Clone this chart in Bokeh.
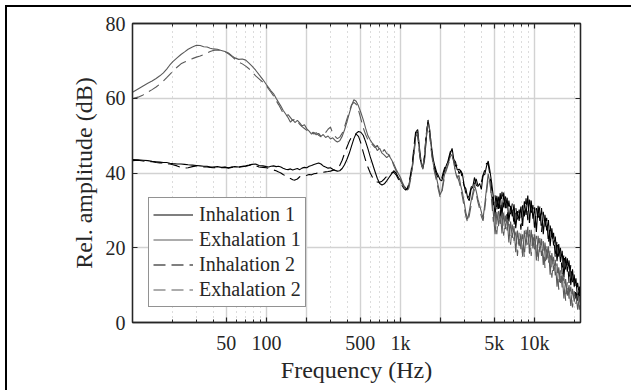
from bokeh.plotting import figure
from bokeh.models import (LogAxis, LinearAxis, FixedTicker, Legend, LegendItem, Range1d)
from bokeh.embed import file_html
from bokeh.resources import INLINE

# ---------------- data ----------------
freq_low = [10, 11, 12, 13, 14, 15, 16, 17, 18, 19, 20, 21.5, 23, 24.5, 26, 28,
            30, 32, 34, 36, 38, 40, 43, 46, 49, 52, 55, 58, 62, 66, 70, 74, 78,
            83, 88, 94, 100]
freq_mid = [104, 108, 113, 118, 123, 128, 133, 139, 145, 151,
            157, 163, 170, 177, 184, 192, 200, 208, 217, 226,
            235, 245, 255, 265, 276, 288, 300, 312, 325, 338,
            352, 367, 382, 398, 414, 431, 449, 467, 486, 506,
            527, 549, 571, 595, 619, 645, 671, 699, 728, 758,
            789, 821, 855, 890, 927, 965]
freq_high = [1000, 1030, 1061, 1093, 1126, 1159, 1194, 1230, 1267, 1305,
             1344, 1384, 1426, 1469, 1513, 1558, 1605, 1653, 1702, 1754,
             1806, 1860, 1916, 1974, 2033, 2094, 2157, 2221, 2288, 2357,
             2427, 2500, 2575, 2652, 2732, 2814, 2898, 2985, 3075, 3167,
             3262, 3360, 3461, 3565, 3671, 3782, 3895, 4012, 4132, 4256,
             4384, 4515, 4651, 4790, 4934, 5082, 5235, 5392, 5553, 5720,
             5892, 6068, 6250, 6438, 6631, 6830, 7035, 7246, 7463, 7687,
             7918, 8155, 8400, 8652, 8911, 9179, 9454, 9738, 10030, 10331,
             10641, 10960, 11289, 11627, 11976, 12335, 12706, 13087, 13479, 13884,
             14300, 14729, 15171, 15626, 16095, 16578, 17075, 17588, 18115, 18659,
             19218, 19795, 20389, 21000, 21630, 22050]

in1_low = [43.6, 43.5, 43.4, 43.3, 43.1, 43.0, 42.9, 42.8, 42.8, 42.6, 42.5,
           42.4, 42.4, 42.3, 42.2, 42.1, 42.0, 41.9, 41.8, 41.8, 41.6,
           41.6, 41.7, 41.5, 41.6, 41.4, 41.6, 41.7, 41.6, 41.8, 41.9,
           42.1, 42.3, 42.4, 42.0, 41.9, 41.7]
ex1_low = [61.6, 62.5, 63.3, 64.0, 64.6, 65.3, 66.0, 66.8, 67.8, 68.9, 69.8,
           70.8, 71.7, 72.4, 73.1, 73.7, 74.2, 74.1, 73.8, 73.7, 73.4,
           73.2, 73.1, 72.8, 72.5, 72.1, 71.4, 70.8, 70.4, 70.5, 70.2,
           69.4, 68.6, 67.5, 66.3, 65.0, 63.6]
in2_low = [43.3, 43.4, 43.2, 43.1, 43.0, 42.8, 42.7, 42.7, 42.5, 42.4, 42.2,
           41.9, 41.5, 41.3, 41.4, 41.7, 41.9, 41.7, 41.6, 41.6, 41.5,
           41.4, 41.5, 41.4, 41.5, 41.3, 41.5, 41.6, 41.5, 41.7, 41.8,
           42.0, 42.2, 42.0, 41.6, 41.5, 41.4]
ex2_low = [59.9, 60.3, 60.9, 61.6, 62.3, 63.0, 63.8, 64.6, 65.5, 66.4, 67.2,
           68.3, 69.2, 69.7, 70.1, 70.6, 71.0, 71.3, 71.7, 72.1, 72.5,
           72.8, 72.9, 72.7, 72.4, 71.9, 71.2, 70.5, 69.7, 69.2, 68.6,
           67.9, 67.0, 66.0, 65.2, 64.3, 63.3]

in1_mid = [41.6, 41.8, 41.9, 41.7, 41.8, 41.6, 41.3, 41.0, 40.9, 41.1,
           40.8, 41.0, 41.2, 40.9, 41.3, 41.5, 41.4, 41.8, 42.0, 42.3,
           42.5, 42.7, 42.4, 41.9, 41.6, 41.3, 41.4, 41.0, 40.7, 40.5,
           40.6, 41.2, 42.2, 43.6, 45.2, 47.2, 49.2, 50.6, 51.1, 50.9,
           50.1, 48.4, 46.5, 44.3, 42.4, 40.4, 38.6, 37.2, 36.8, 37.1,
           37.9, 38.8, 39.7, 40.6, 40.0, 38.8]
ex1_mid = [62.8, 62.0, 61.2, 60.0, 58.9, 57.9, 56.8, 55.8, 54.8, 53.6,
           54.3, 53.5, 54.1, 53.4, 52.6, 52.9, 51.8, 51.2, 50.4, 50.9,
           50.2, 50.6, 49.8, 50.3, 49.5, 49.9, 49.1, 49.4, 48.7, 48.3,
           48.6, 49.8, 51.5, 53.6, 55.8, 58.0, 59.6, 59.2, 57.9, 56.2,
           54.3, 52.0, 50.0, 48.8, 47.9, 47.2, 46.0, 46.6, 45.3, 44.8,
           44.1, 44.7, 43.6, 42.5, 41.0, 39.8]
in2_mid = [41.2, 41.0, 40.8, 40.6, 40.3, 40.0, 39.6, 39.2, 38.9, 38.5,
           38.2, 38.1, 38.4, 39.0, 39.3, 39.2, 39.4, 39.6, 39.5, 39.8,
           39.9, 40.1, 40.0, 40.2, 40.3, 40.4, 40.5, 40.7, 40.8, 41.2,
           42.0, 43.4, 45.2, 46.9, 48.4, 49.6, 50.3, 50.4, 49.8, 48.0,
           45.6, 43.4, 41.6, 40.0, 38.8, 38.0, 37.6, 37.5, 37.8, 38.4,
           39.1, 39.6, 40.0, 40.2, 39.5, 38.3]
ex2_mid = [62.4, 61.6, 60.6, 59.4, 58.3, 57.2, 56.0, 55.2, 55.6, 54.8,
           54.0, 54.5, 53.8, 53.0, 52.4, 51.9, 51.4, 51.7, 51.0, 50.4,
           50.8, 50.1, 49.7, 50.2, 50.8, 51.7, 52.3, 50.6, 49.8, 49.2,
           49.6, 50.6, 52.3, 54.4, 56.3, 58.2, 58.9, 58.4, 56.8, 54.5,
           52.1, 50.3, 48.9, 48.3, 47.5, 46.8, 47.4, 46.1, 45.5, 46.3,
           45.2, 44.9, 43.8, 42.0, 40.6, 39.4]

in1_high = [38.0, 37.2, 36.5, 36.0, 35.7, 37.0, 39.2, 42.0, 46.5, 51.0,
            51.6, 46.8, 42.9, 41.2, 43.6, 49.2, 54.2, 51.3, 47.2, 43.7,
            41.8, 40.2, 39.3, 38.2, 37.9, 39.6, 41.2, 42.5, 43.3, 45.2,
            46.6, 43.6, 43.0, 40.8, 41.0, 40.6, 39.8, 36.6, 35.8, 33.4,
            32.6, 35.6, 36.2, 38.8, 36.8, 36.4, 37.2, 35.6, 39.4, 39.6,
            41.8, 43.2, 40.6, 37.4, 33.5, 28.6, 33.9, 30.4, 34.6, 28.4,
            34.8, 30.6, 33.4, 27.0, 31.2, 28.4, 31.6, 25.2, 29.8, 27.2,
            31.0, 25.8, 32.4, 28.8, 34.0, 26.6, 32.6, 27.8, 30.8, 24.2,
            31.2, 27.2, 30.6, 23.6, 28.8, 24.6, 27.4, 20.4, 25.2, 20.6,
            23.0, 16.4, 21.0, 16.2, 19.2, 12.2, 17.6, 13.6, 16.6, 10.0,
            14.2, 9.6, 11.8, 5.8, 9.6, 5.6]
ex1_high = [38.8, 37.6, 36.6, 35.8, 35.4, 36.8, 39.4, 42.6, 46.8, 50.8,
            51.2, 46.2, 42.4, 41.0, 44.2, 49.8, 53.8, 51.6, 46.4, 42.6,
            40.4, 38.6, 36.4, 34.2, 35.2, 38.2, 40.4, 41.6, 43.0, 44.4,
            45.0, 42.8, 40.2, 38.6, 39.4, 36.6, 34.8, 32.2, 29.4, 27.6,
            29.8, 32.4, 34.6, 36.8, 35.2, 33.0, 31.4, 29.6, 27.8, 31.6,
            35.8, 39.8, 37.2, 33.6, 29.2, 23.6, 29.6, 25.8, 30.0, 23.8,
            29.4, 25.0, 28.2, 21.4, 27.0, 22.6, 25.8, 18.8, 24.6, 20.4,
            23.8, 17.6, 24.6, 20.6, 25.6, 18.4, 24.8, 19.8, 23.6, 16.6,
            23.2, 18.8, 22.4, 15.4, 21.4, 16.8, 20.4, 12.8, 18.6, 13.8,
            16.8, 9.6, 14.8, 10.6, 13.0, 6.4, 11.6, 7.2, 10.0, 4.4,
            9.0, 5.6, 8.0, 3.4, 7.0, 4.2]
in2_high = [37.6, 36.6, 35.9, 35.4, 35.8, 37.6, 40.0, 43.2, 47.8, 51.8,
            50.4, 45.6, 42.2, 41.6, 44.8, 50.6, 53.6, 50.2, 46.0, 42.8,
            41.0, 39.6, 38.7, 38.0, 38.6, 40.4, 41.8, 42.0, 44.0, 45.8,
            45.6, 43.4, 41.8, 42.2, 39.8, 40.6, 38.4, 36.6, 34.6, 33.2,
            34.0, 36.0, 37.4, 37.0, 38.4, 36.6, 36.8, 37.6, 39.4, 40.8,
            42.6, 42.4, 39.4, 35.8, 31.4, 34.0, 29.8, 34.4, 28.6, 35.0,
            30.8, 34.0, 27.6, 32.6, 29.0, 31.8, 25.8, 30.8, 27.6, 30.2,
            24.8, 31.4, 28.4, 33.2, 27.4, 33.6, 28.6, 31.4, 24.6, 30.6,
            27.2, 31.0, 24.2, 29.6, 25.6, 28.0, 21.2, 26.2, 21.8, 24.0,
            17.2, 22.0, 17.6, 20.0, 13.0, 18.4, 14.2, 17.2, 10.6, 15.4,
            10.8, 12.8, 6.4, 10.6, 7.0, 8.6]
ex2_high = [38.2, 37.0, 36.2, 35.2, 35.0, 36.2, 38.6, 41.8, 45.8, 49.8,
            50.6, 45.6, 42.0, 41.4, 45.0, 50.6, 53.0, 50.4, 45.6, 42.0,
            39.8, 37.8, 35.6, 33.6, 34.6, 37.4, 39.8, 41.2, 42.6, 43.6,
            44.2, 43.4, 39.6, 39.2, 37.8, 35.8, 33.6, 31.0, 28.4, 26.8,
            28.6, 31.2, 33.8, 35.6, 34.4, 32.2, 30.4, 28.4, 27.2, 30.4,
            34.6, 38.6, 38.2, 32.4, 27.0, 30.0, 23.6, 29.8, 26.4, 29.6,
            23.2, 28.6, 24.6, 27.4, 20.8, 26.2, 21.8, 25.0, 17.8, 24.0,
            19.6, 23.6, 17.4, 24.8, 20.8, 25.0, 17.8, 24.0, 19.4, 23.2,
            16.2, 22.6, 17.8, 21.8, 14.6, 20.8, 15.8, 19.4, 12.0, 17.6,
            12.6, 15.8, 8.8, 14.0, 9.4, 12.4, 5.8, 10.8, 6.4, 9.6,
            4.0, 8.4, 5.0, 7.4, 3.4, 6.2]

series_labels = ["Inhalation 1", "Exhalation 1", "Inhalation 2", "Exhalation 2"]
x_major = [50, 100, 200, 500, 1000, 2000, 5000, 10000]
x_minor = [20, 30, 40, 60, 70, 80, 90, 300, 400, 600, 700, 800, 900,
           3000, 4000, 6000, 7000, 8000, 9000, 20000]
x_labels = {50: "50", 100: "100", 200: "", 500: "500", 1000: "1k",
            2000: "", 5000: "5k", 10000: "10k"}
y_major = [0, 20, 40, 60, 80]

freq = freq_low + freq_mid + freq_high
in1 = in1_low + in1_mid + in1_high
ex1 = ex1_low + ex1_mid + ex1_high
in2 = in2_low + in2_mid + in2_high
ex2 = ex2_low + ex2_mid + ex2_high

# ---------------- figure ----------------
FONT = "Liberation Serif"
INK = "#262626"
GRAY = "#5a5a5a"

p = figure(width=626, height=385, x_axis_type="log",
           x_range=Range1d(10, 22050), y_range=Range1d(0, 80),
           output_backend="svg", toolbar_location=None,
           min_border_left=125, min_border_right=53,
           min_border_top=16, min_border_bottom=70)
p.styles = {"margin-left": "5px", "margin-top": "5px",
            "border-left": "2px solid black", "border-top": "2px solid black"}
p.background_fill_color = "white"
p.border_fill_color = "white"
p.outline_line_color = INK
p.outline_line_width = 1.3

xt = FixedTicker(ticks=x_major, minor_ticks=x_minor)
yt = FixedTicker(ticks=y_major, minor_ticks=[])

bottom_axis = p.below[0]
left_axis = p.left[0]
bottom_axis.ticker = xt
left_axis.ticker = yt
p.xgrid.ticker = xt
p.ygrid.ticker = yt
bottom_axis.major_label_overrides = x_labels

p.xgrid.grid_line_color = "#d2d2d2"
p.xgrid.grid_line_width = 1.4
p.xgrid.minor_grid_line_color = "#b8b8b8"
p.xgrid.minor_grid_line_dash = "1 4"
p.xgrid.minor_grid_line_width = 1
p.ygrid.grid_line_color = "#d2d2d2"
p.ygrid.grid_line_width = 1.4

top_axis = LogAxis(ticker=xt, major_label_overrides={t: "" for t in x_major},
                   major_label_text_font_size="1px", major_label_standoff=0)
right_axis = LinearAxis(ticker=yt, major_label_overrides={t: "" for t in y_major},
                        major_label_text_font_size="1px", major_label_standoff=0)
p.add_layout(top_axis, "above")
p.add_layout(right_axis, "right")

for ax in [bottom_axis, left_axis, top_axis, right_axis]:
    ax.axis_line_color = INK
    ax.axis_line_width = 1.3
    ax.major_tick_line_color = INK
    ax.major_tick_line_width = 1.2
    ax.minor_tick_line_color = INK
    ax.major_tick_in = 5
    ax.major_tick_out = 0
    ax.minor_tick_in = 3
    ax.minor_tick_out = 0
    ax.major_label_text_font = FONT
    ax.major_label_text_color = INK
    ax.axis_label_text_font = FONT
    ax.axis_label_text_font_style = "normal"
    ax.axis_label_text_color = INK

bottom_axis.major_label_text_font_size = "20px"
left_axis.major_label_text_font_size = "20px"
bottom_axis.major_label_standoff = 9
left_axis.major_label_standoff = 7
bottom_axis.axis_label = "Frequency (Hz)"
left_axis.axis_label = "Rel. amplitude (dB)"
bottom_axis.axis_label_text_font_size = "24px"
left_axis.axis_label_text_font_size = "24px"
bottom_axis.axis_label_standoff = 0
left_axis.axis_label_standoff = 6

r_in1 = p.line(freq, in1, line_color="black", line_width=1.1)
r_ex1 = p.line(freq, ex1, line_color=GRAY, line_width=1.1)
r_in2 = p.line(freq, in2, line_color="black", line_width=1.1, line_dash="12 6")
r_ex2 = p.line(freq, ex2, line_color=GRAY, line_width=1.1, line_dash="12 6")

legend = Legend(items=[LegendItem(label=series_labels[0], renderers=[r_in1]),
                       LegendItem(label=series_labels[1], renderers=[r_ex1]),
                       LegendItem(label=series_labels[2], renderers=[r_in2]),
                       LegendItem(label=series_labels[3], renderers=[r_ex2])],
                location=(16, 15))
legend.label_text_font = FONT
legend.label_text_font_size = "20px"
legend.label_text_color = INK
legend.label_height = 25
legend.glyph_height = 25
legend.glyph_width = 40
legend.label_standoff = 6
legend.padding = 4
legend.spacing = 0
legend.margin = 0
legend.border_line_color = INK
legend.border_line_width = 1
legend.background_fill_color = "white"
legend.background_fill_alpha = 1
p.add_layout(legend)

open("out.html", "w").write(file_html(p, INLINE))
